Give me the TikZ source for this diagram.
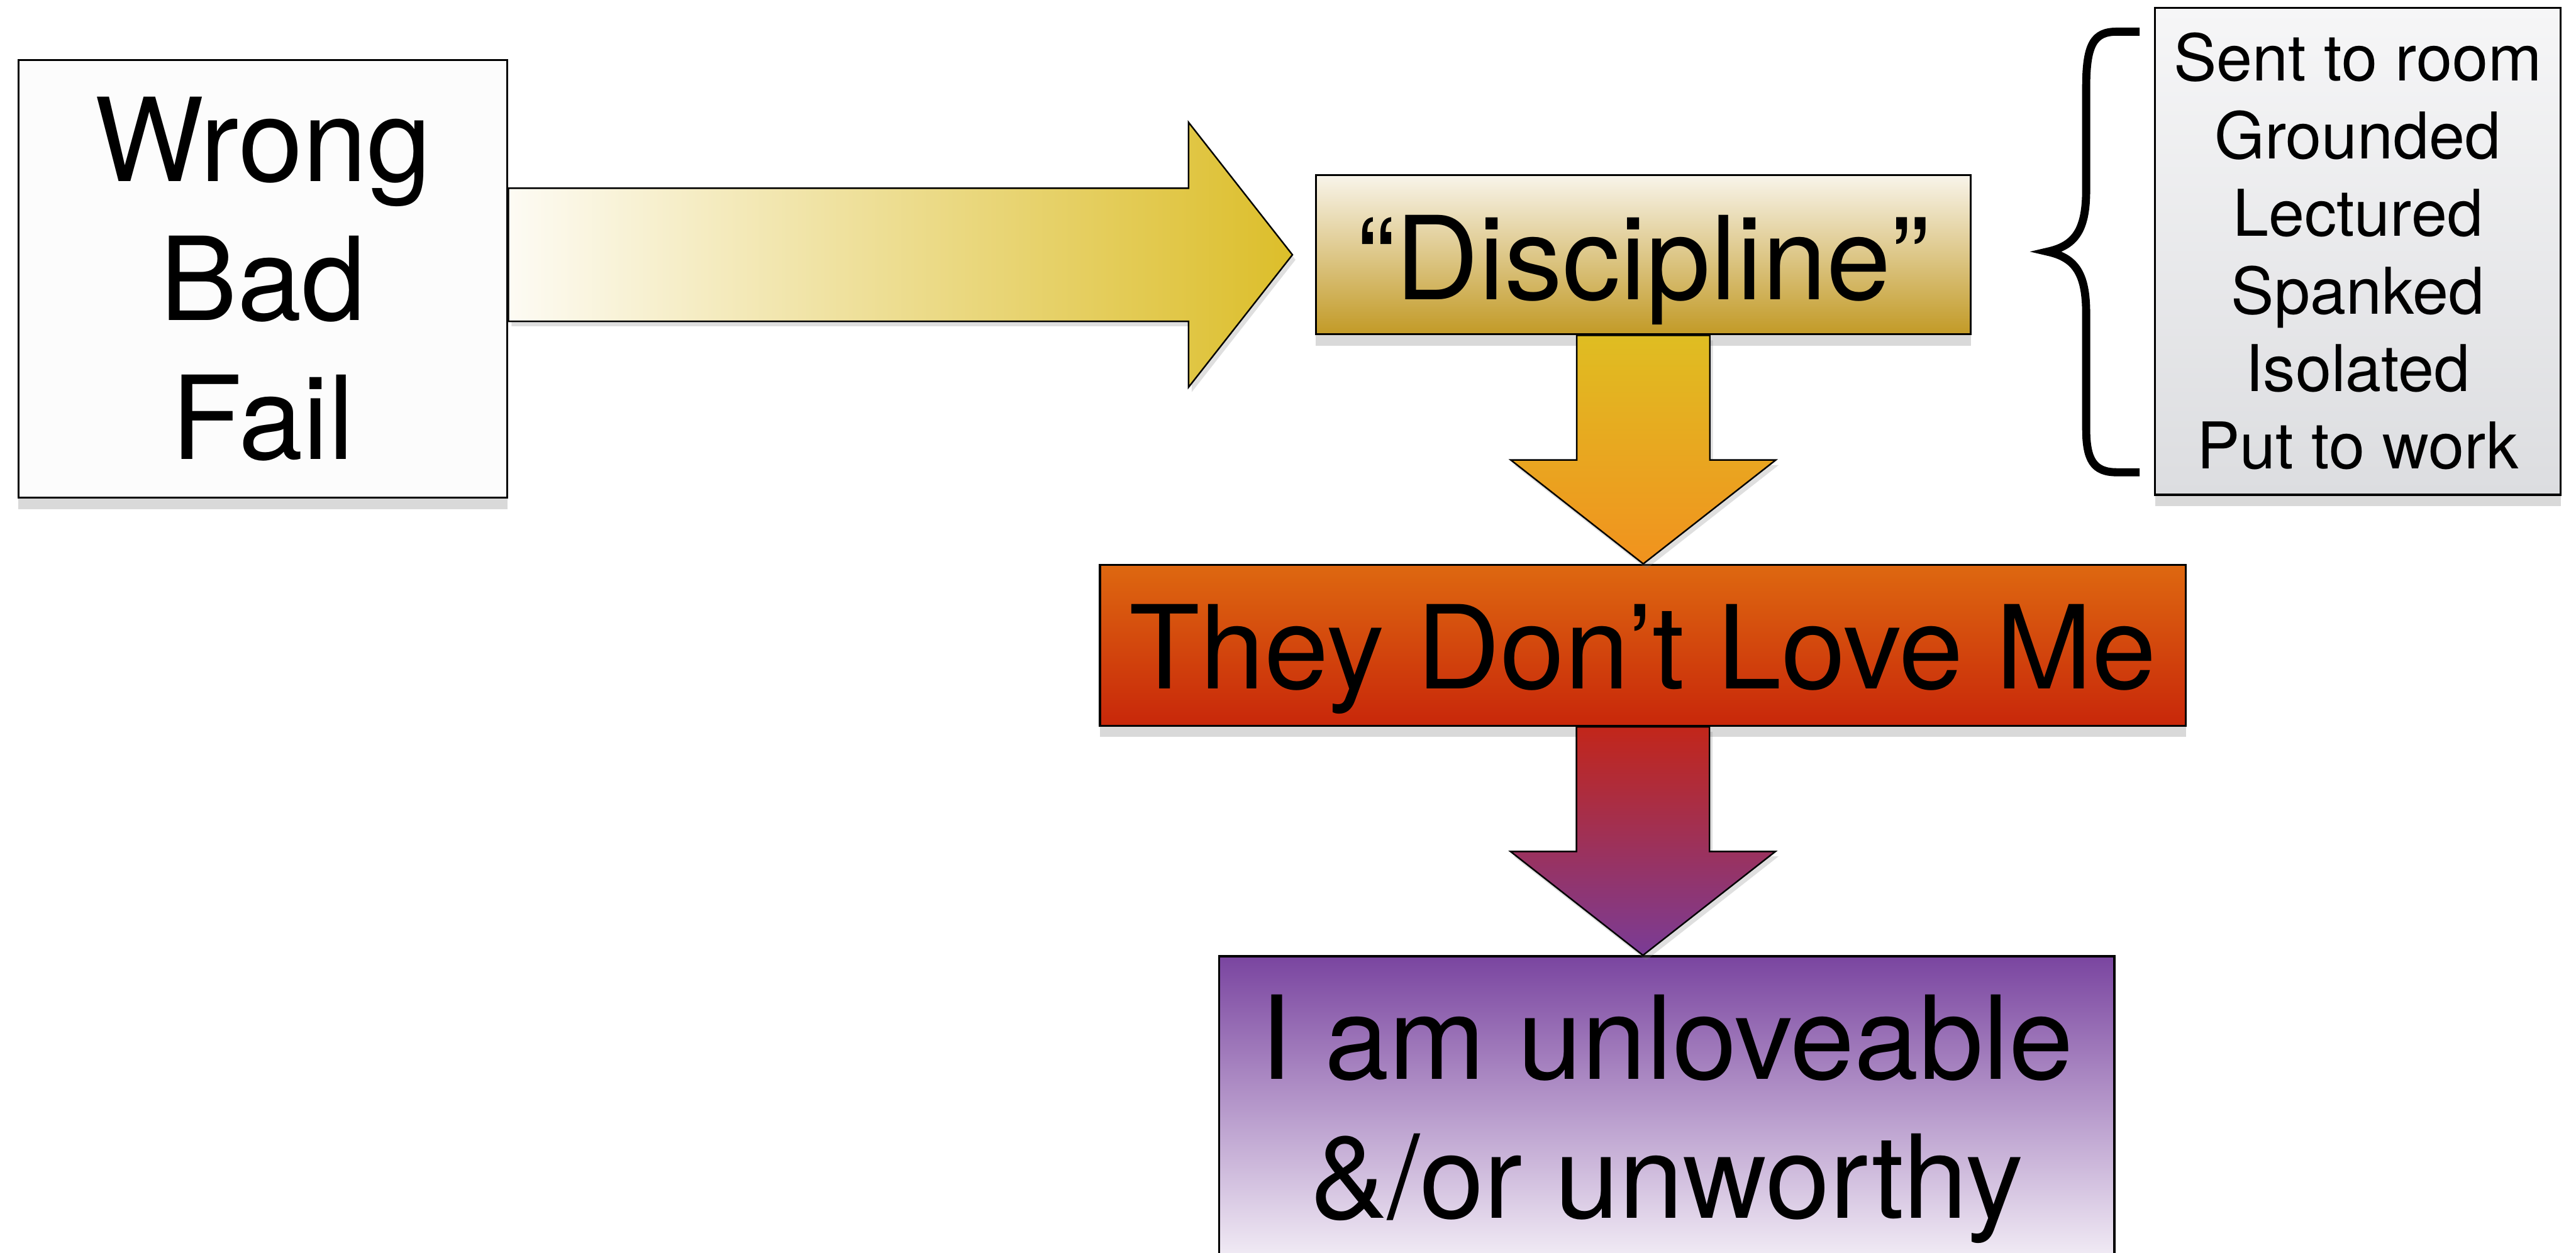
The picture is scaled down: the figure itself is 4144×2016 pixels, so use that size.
\documentclass[tikz,border=0pt]{standalone}
\usepackage{fontspec}
\setmainfont{TeX Gyre Heros}
\usepackage{tikz}
\usetikzlibrary{shapes.geometric, shadows, calc}

\definecolor{wrongFill}{HTML}{FCFCFC}
\definecolor{creamA}{HTML}{FDFBF4}
\definecolor{goldA}{HTML}{DCBE2A}
\definecolor{discTop}{HTML}{F8F4EA}
\definecolor{discBot}{HTML}{C29A26}
\definecolor{arrOneTop}{HTML}{DFBD22}
\definecolor{arrOneBot}{HTML}{F1921E}
\definecolor{hateTop}{HTML}{DE6810}
\definecolor{hateBot}{HTML}{C8270A}
\definecolor{arrTwoTop}{HTML}{C2261A}
\definecolor{arrTwoBot}{HTML}{7A3C96}
\definecolor{unlovTop}{HTML}{7A45A0}
\definecolor{unlovBot}{HTML}{FBF9FC}
\definecolor{listTop}{HTML}{F6F6F7}
\definecolor{listBot}{HTML}{DCDDE0}

\tikzstyle{box} = [rectangle, draw=black, line width=0.9pt, inner sep=0pt,
drop shadow={shadow xshift=0pt, shadow yshift=-0.18cm, opacity=0.3}]
\tikzstyle{big} = [font=\fontsize{53}{63.5}\selectfont]
\tikzstyle{small} = [font=\fontsize{29.5}{35.5}\selectfont]
\tikzstyle{blockarrow} = [draw=black, line width=0.7pt,
drop shadow={shadow xshift=0.05cm, shadow yshift=-0.08cm, opacity=0.25}]
\tikzstyle{brace} = [draw=black, line width=0.13cm]

\begin{document}
\begin{tikzpicture}[x=0.01cm, y=-0.01cm]
            \useasboundingbox (0,0) rectangle (4144,2016);

            \node (wrong) [box, big, align=center, fill=wrongFill, minimum width=7.86cm, minimum height=7.04cm] at (423,449) {Wrong\\Bad\\Fail};
            \node (disc)  [box, big, top color=discTop, bottom color=discBot, minimum width=10.53cm, text height=2.0cm, text depth=0.56cm] at (2643.5,410) {“Discipline”};
            \node (hate)  [box, big, top color=hateTop, bottom color=hateBot, minimum width=17.46cm, text height=1.99cm, text depth=0.60cm] at (2643,1038.5) {They Don’t Love Me};
            \node (unlov) [box, big, align=center, top color=unlovTop, bottom color=unlovBot, minimum width=14.39cm, minimum height=5.24cm] at (2681.5,1801) {I am unloveable\\\&/or unworthy};
            \node (list)  [box, small, align=center, top color=listTop, bottom color=listBot, minimum width=6.52cm, minimum height=7.83cm] at (3793,404.5) {Sent to room\\Grounded\\Lectured\\Spanked\\Isolated\\Put to work};

            % curly brace in front of the list
            \draw [brace] (3442,51) -- (3405,51) .. controls (3368,51) and (3356,72) .. (3356,140) -- (3356,305)
                .. controls (3356,368) and (3340,395) .. (3294,405) .. controls (3340,415) and (3356,442) .. (3356,505)
                -- (3356,690) .. controls (3356,740) and (3368,760) .. (3405,760) -- (3442,760);

            % block arrows
            \path [blockarrow, left color=creamA, right color=goldA] let \p1=(wrong.east |- disc.west), \p2=(disc.west) in
                (\x1,\y1+1.07cm) -- (\x2-2.03cm,\y1+1.07cm) -- (\x2-2.03cm,\y1+2.13cm) -- (\x2-0.36cm,\y1)
                -- (\x2-2.03cm,\y1-2.13cm) -- (\x2-2.03cm,\y1-1.07cm) -- (\x1,\y1-1.07cm) -- cycle;
            \path [blockarrow, top color=arrOneTop, bottom color=arrOneBot] let \p1=(disc.south), \p2=(hate.north) in
                (\x1-1.07cm,\y1) -- (\x1+1.07cm,\y1) -- (\x1+1.07cm,\y2+1.67cm) -- (\x1+2.13cm,\y2+1.67cm) -- (\x1,\y2)
                -- (\x1-2.13cm,\y2+1.67cm) -- (\x1-1.07cm,\y2+1.67cm) -- cycle;
            \path [blockarrow, top color=arrTwoTop, bottom color=arrTwoBot] let \p1=(hate.south), \p2=(unlov.north) in
                (\x1-1.07cm,\y1) -- (\x1+1.07cm,\y1) -- (\x1+1.07cm,\y2+1.67cm) -- (\x1+2.13cm,\y2+1.67cm) -- (\x1,\y2)
                -- (\x1-2.13cm,\y2+1.67cm) -- (\x1-1.07cm,\y2+1.67cm) -- cycle;

        \end{tikzpicture}
\end{document}
